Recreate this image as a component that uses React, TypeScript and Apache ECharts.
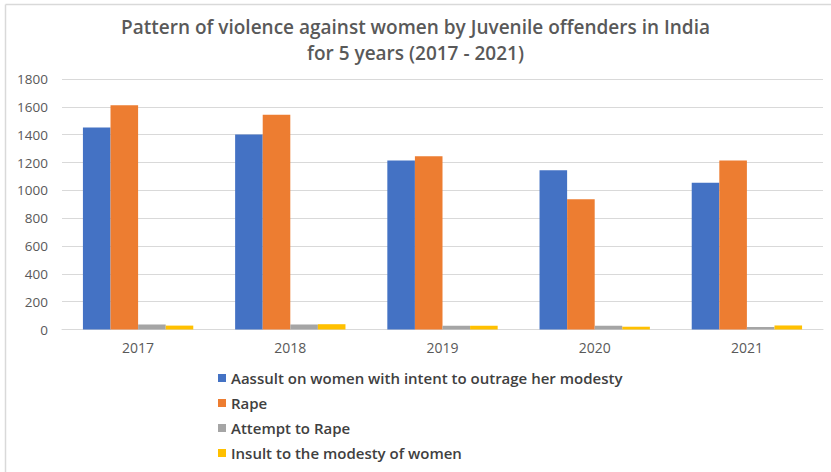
import React, { useEffect, useRef } from "react";
import * as echarts from "echarts";

const years = ["2017", "2018", "2019", "2020", "2021"];
const seriesNames = [
  "Aassult on women with intent to outrage her modesty",
  "Rape",
  "Attempt to Rape",
  "Insult to the modesty of women",
];
const assault = [1452, 1402, 1214, 1145, 1055];
const rape = [1612, 1543, 1245, 936, 1214];
const attempt = [36, 36, 27, 27, 18];
const insult = [28, 38, 27, 20, 29];
const colors = ["#4472C4", "#ED7D31", "#A5A5A5", "#FFC000"];
const titleLines = [
  "Pattern of violence against women by Juvenile offenders in India",
  "for 5 years (2017 - 2021)",
];

export default function App() {
  const ref = useRef<HTMLDivElement>(null);
  useEffect(() => {
    document.body.style.margin = "0";
    const chart = echarts.init(ref.current!, null, { renderer: "svg" });
    const data = [assault, rape, attempt, insult];
    const titleStyle = {
      fontFamily: "Open Sans",
      fontSize: 19,
      fontWeight: 600,
      color: "#595959",
      lineHeight: 22,
    };
    chart.setOption({
      animation: false,
      backgroundColor: "#ffffff",
      title: [
        { text: titleLines[0], left: "center", top: 16, padding: 0, textStyle: titleStyle },
        { text: titleLines[1], left: "center", top: 42, padding: 0, textStyle: titleStyle },
      ],
      graphic: [
        { type: "line", shape: { x1: 5.5, y1: 4.5, x2: 831, y2: 4.5 }, style: { stroke: "#d9d9d9", lineWidth: 1.5 } },
        { type: "line", shape: { x1: 5.5, y1: 4.5, x2: 5.5, y2: 472 }, style: { stroke: "#d9d9d9", lineWidth: 1.5 } },
      ],
      legend: {
        orient: "vertical",
        left: 213,
        top: 364,
        height: 105,
        itemWidth: 8,
        itemHeight: 8,
        itemGap: 7,
        icon: "rect",
        textStyle: {
          fontFamily: "Open Sans",
          fontSize: 15,
          fontWeight: 600,
          color: "#404040",
          lineHeight: 18,
        },
        data: seriesNames,
      },
      grid: { left: 62, right: 8, top: 79, bottom: 142.5, containLabel: false },
      xAxis: {
        type: "category",
        data: years,
        axisLine: { lineStyle: { color: "#d9d9d9" } },
        axisTick: { show: false },
        axisLabel: { color: "#595959", fontFamily: "Open Sans", fontSize: 14, margin: 11 },
      },
      yAxis: {
        type: "value",
        min: 0,
        max: 1800,
        interval: 200,
        axisLine: { show: false },
        axisTick: { show: false },
        splitLine: { lineStyle: { color: "#d9d9d9" } },
        axisLabel: {
          color: "#595959",
          fontFamily: "Open Sans",
          fontSize: 13.5,
          margin: 14,
          formatter: (v: number) => String(v),
        },
      },
      series: seriesNames.map((name, i) => ({
        name,
        type: "bar",
        data: data[i],
        barGap: "0%",
        barCategoryGap: "27.5%",
        itemStyle: { color: colors[i] },
      })),
    });
    return () => chart.dispose();
  }, []);
  return <div ref={ref} style={{ position: "fixed", left: 0, top: 0, width: 831, height: 472 }} />;
}
